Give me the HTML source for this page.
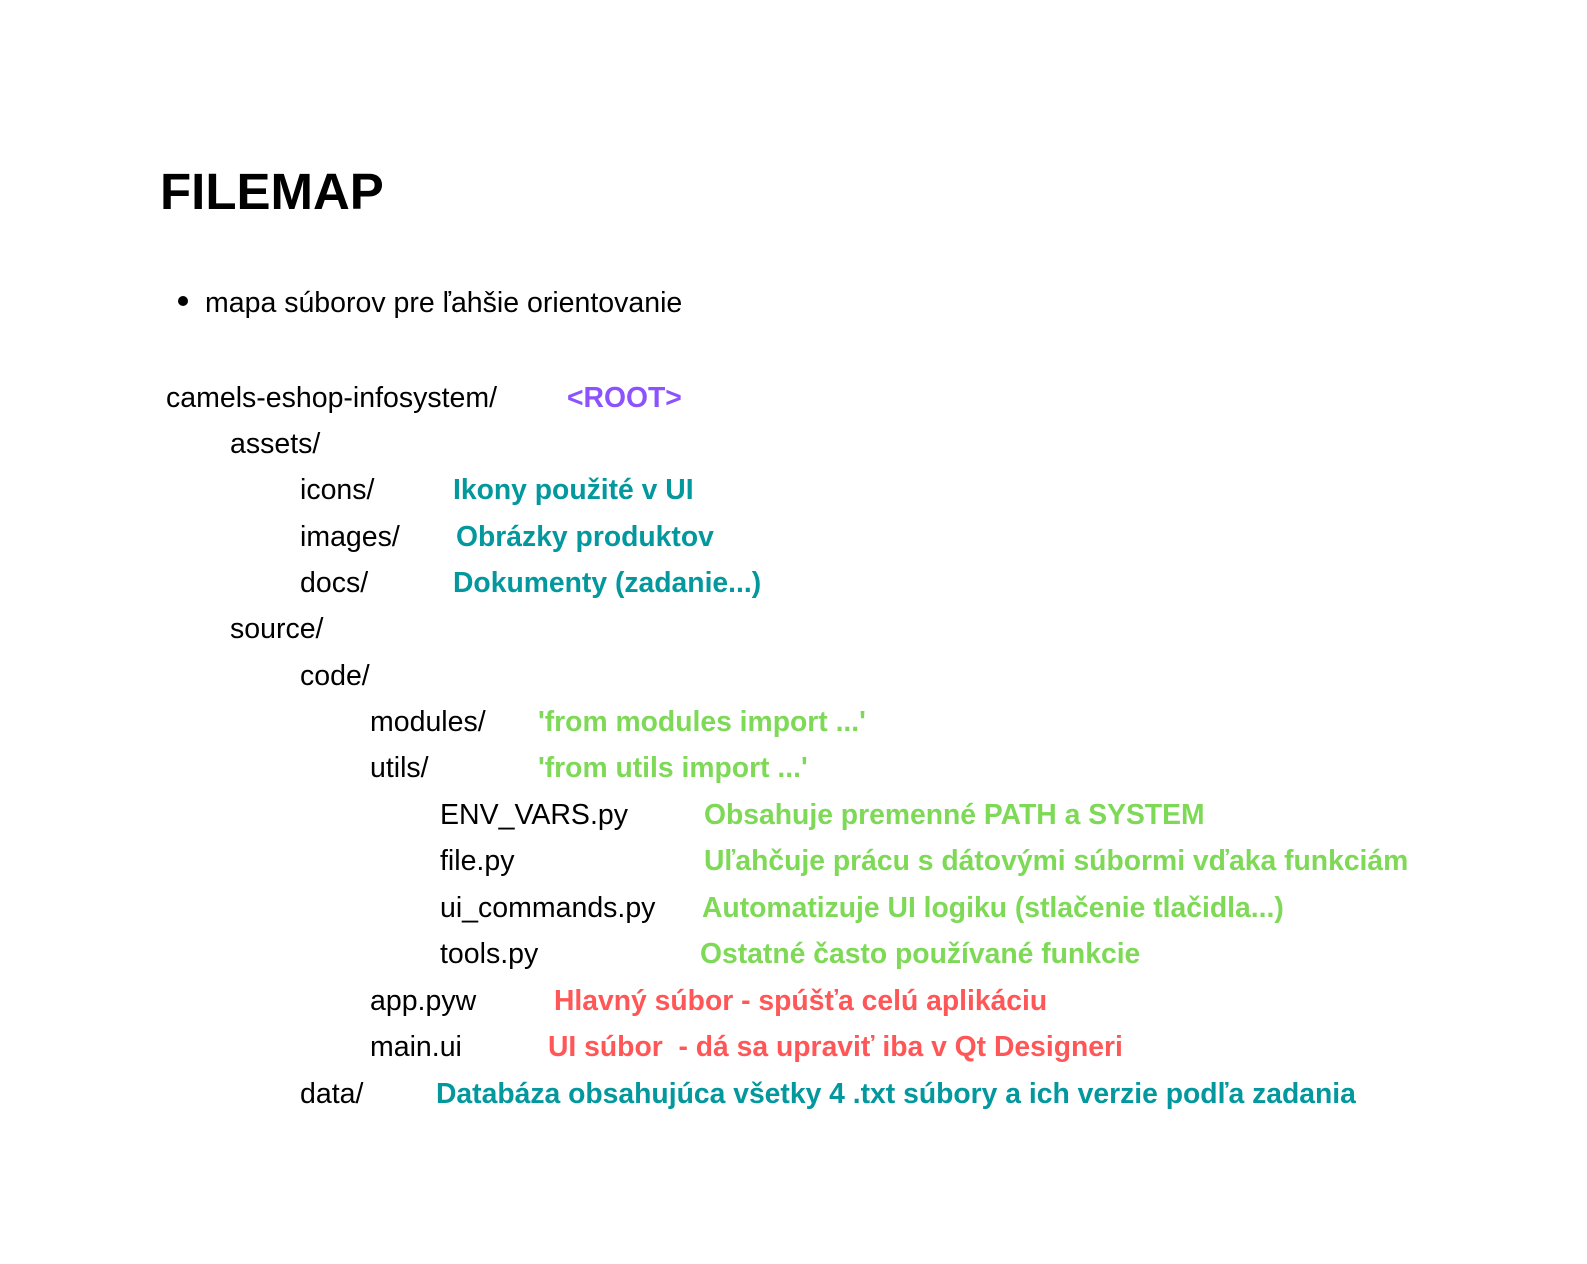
<!DOCTYPE html>
<html><head><meta charset="utf-8"><style>
body{margin:0;width:1587px;height:1264px;background:#fff;position:relative;overflow:hidden;font-family:"Liberation Sans",sans-serif;}
.t{position:absolute;font-size:28.5px;line-height:28px;color:#000;white-space:nowrap;margin-top:2px}
.b{font-weight:bold;font-size:28.3px;margin-top:0}
.p{color:#8c52ff}.c{color:#03989e}.g{color:#7ed957}.r{color:#ff5757}
h1{position:absolute;left:160px;top:166px;margin:0;font-size:51px;line-height:51px;font-weight:bold;}
.dot{position:absolute;left:178px;top:296px;width:10px;height:10px;border-radius:50%;background:#000}
</style></head><body>
<h1>FILEMAP</h1>
<div class="dot"></div>
<div class="t" style="left:205px;top:287px">mapa súborov pre ľahšie orientovanie</div>

<div class="t" style="left:166px;top:382px">camels-eshop-infosystem/</div>
<div class="t b p" style="left:567px;top:383px">&lt;ROOT&gt;</div>

<div class="t" style="left:230px;top:428px">assets/</div>

<div class="t" style="left:300px;top:474px">icons/</div>
<div class="t b c" style="left:453px;top:475px">Ikony použité v UI</div>

<div class="t" style="left:300px;top:521px">images/</div>
<div class="t b c" style="left:456px;top:522px">Obrázky produktov</div>

<div class="t" style="left:300px;top:567px">docs/</div>
<div class="t b c" style="left:453px;top:568px">Dokumenty (zadanie...)</div>

<div class="t" style="left:230px;top:613px">source/</div>
<div class="t" style="left:300px;top:660px">code/</div>

<div class="t" style="left:370px;top:706px">modules/</div>
<div class="t b g" style="left:538px;top:707px">'from modules import ...'</div>

<div class="t" style="left:370px;top:752px">utils/</div>
<div class="t b g" style="left:538px;top:753px">'from utils import ...'</div>

<div class="t" style="left:440px;top:799px">ENV_VARS.py</div>
<div class="t b g" style="left:704px;top:800px">Obsahuje premenné PATH a SYSTEM</div>

<div class="t" style="left:440px;top:845px">file.py</div>
<div class="t b g" style="left:704px;top:846px">Uľahčuje prácu s dátovými súbormi vďaka funkciám</div>

<div class="t" style="left:440px;top:892px">ui_commands.py</div>
<div class="t b g" style="left:702px;top:893px">Automatizuje UI logiku (stlačenie tlačidla...)</div>

<div class="t" style="left:440px;top:938px">tools.py</div>
<div class="t b g" style="left:700px;top:939px">Ostatné často používané funkcie</div>

<div class="t" style="left:370px;top:985px">app.pyw</div>
<div class="t b r" style="left:554px;top:986px">Hlavný súbor - spúšťa celú aplikáciu</div>

<div class="t" style="left:370px;top:1031px">main.ui</div>
<div class="t b r" style="left:548px;top:1032px">UI súbor &nbsp;- dá sa upraviť iba v Qt Designeri</div>

<div class="t" style="left:300px;top:1078px">data/</div>
<div class="t b c" style="left:436px;top:1079px">Databáza obsahujúca všetky 4 .txt súbory a ich verzie podľa zadania</div>
</body></html>
